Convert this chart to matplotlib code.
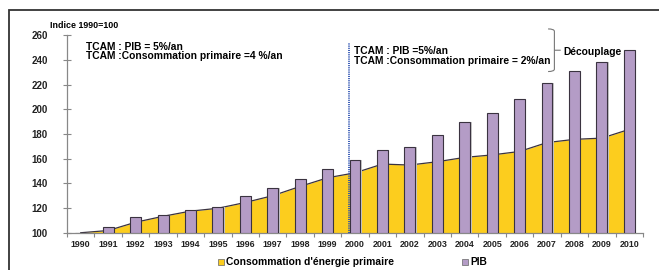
import numpy as np
import matplotlib
matplotlib.use("Agg")
import matplotlib.pyplot as plt
from matplotlib.patches import Rectangle
from matplotlib.path import Path
from matplotlib.patches import PathPatch

plt.rcParams['font.family'] = ['Liberation Sans', 'DejaVu Sans']
plt.rcParams['font.weight'] = 'bold'

years = [str(y) for y in range(1990, 2011)]
pib = [100, 104.4, 112.4, 114.6, 118.1, 121.0, 129.5, 136.4, 143.2, 151.3, 158.9,
       166.7, 169.4, 179.1, 189.9, 197.0, 208.0, 221.2, 231.0, 238.2, 248.0]
conso = [100, 101.8, 108.5, 113.3, 117.5, 119.8, 124.5, 130.0, 137.5, 144.5, 148.5,
         155.6, 154.8, 157.5, 161.0, 163.0, 165.8, 173.0, 175.6, 176.6, 183.7]
yticks = [100, 120, 140, 160, 180, 200, 220, 240, 260]

purple = '#b49cc6'
yellow = '#fccd1e'
dark = '#3a3340'

fig = plt.figure(figsize=(6.59, 2.70), dpi=100)
ax = fig.add_axes([0.1017, 0.138, 0.874, 0.732])

x = np.arange(len(years))

# area of primary energy consumption
ax.fill_between(x, 100, conso, color=yellow, lw=0, zorder=1)
ax.plot(x, conso, color=dark, lw=0.9, zorder=2)

# GDP bars (with a light shadow)
ax.bar(x + 0.05, np.array(pib) - 100, bottom=100, width=0.40, color='#c8c8c8',
       lw=0, zorder=2.5)
ax.bar(x, np.array(pib) - 100, bottom=100, width=0.40, color=purple,
       edgecolor=dark, lw=0.8, zorder=3)

ax.set_xlim(-0.5, len(years) - 0.5)
ax.set_ylim(100, 260)

for s in ['top', 'right']:
    ax.spines[s].set_visible(False)
for s in ['left', 'bottom']:
    ax.spines[s].set_color('#888888')
    ax.spines[s].set_linewidth(0.9)

ax.set_yticks(yticks)
ax.set_yticklabels([str(v) for v in yticks], fontsize=7, fontweight='bold', color='#222222')
ax.tick_params(axis='y', direction='inout', length=6, width=0.8, color='#888888', pad=11)

ax.set_xticks(x)
ax.set_xticklabels(years, fontsize=6.4, fontweight='bold', color='#222222')
ax.tick_params(axis='x', length=0, pad=5)
ax.set_xticks(np.arange(len(years) + 1) - 0.5, minor=True)
ax.tick_params(axis='x', which='minor', direction='out', length=3, width=0.8, color='#888888')

# dotted separator before 2000
ax.plot([9.79, 9.79], [100, 253.6], color='#2a4fb0', lw=1.3, ls=(0, (0.6, 0.6)), zorder=4,
        clip_on=False)

ax.text(-1.12, 268, 'Indice 1990=100', fontsize=6.4, fontweight='bold',
        ha='left', va='center', clip_on=False)
ax.text(0.2, 246.7, 'TCAM : PIB = 5%/an\nTCAM :Consommation primaire =4 %/an',
        fontsize=7.4, fontweight='bold', ha='left', va='center', linespacing=0.95)
ax.text(9.98, 243.0, 'TCAM : PIB =5%/an\nTCAM :Consommation primaire = 2%/an',
        fontsize=7.4, fontweight='bold', ha='left', va='center', linespacing=0.95)
ax.text(17.58, 246.5, 'Découplage', fontsize=7.4, fontweight='bold', ha='left', va='center')

# curly brace
def brace(xl, xr, yb, yt):
    ym = (yb + yt) / 2
    xm = (xl + xr) / 2
    verts = [(xl, yt), (xm, yt), (xm, yt - 2), (xm, ym + 4),
             (xm, ym + 1), (xm, ym), (xr, ym),
             (xm, ym), (xm, ym - 1), (xm, ym - 4),
             (xm, yb + 2), (xm, yb), (xl, yb)]
    codes = [Path.MOVETO, Path.CURVE3, Path.CURVE3, Path.LINETO,
             Path.CURVE3, Path.CURVE3, Path.LINETO,
             Path.MOVETO, Path.CURVE3, Path.CURVE3, Path.LINETO,
             Path.CURVE3, Path.CURVE3]
    ax.add_patch(PathPatch(Path(verts, codes), fill=False, ec='#777777', lw=0.8,
                           clip_on=False))

brace(17.04, 17.5, 230.5, 265.0)

# legend
fig.patches.append(Rectangle((218 / 659, 1 - 265 / 270), 6 / 659, 6 / 270,
                             transform=fig.transFigure, fc=yellow, ec='#666666', lw=0.5))
fig.text(226 / 659, 1 - 262 / 270, "Consommation d'énergie primaire", fontsize=7.4,
         fontweight='bold', va='center', ha='left')
fig.patches.append(Rectangle((462 / 659, 1 - 265 / 270), 6 / 659, 6 / 270,
                             transform=fig.transFigure, fc=purple, ec='#666666', lw=0.5))
fig.text(470 / 659, 1 - 262 / 270, "PIB", fontsize=7.4, fontweight='bold',
         va='center', ha='left')

# outer frame
fig.patches.append(Rectangle((9 / 659, -0.1), 1.2, 1 - 10 / 270 + 0.1,
                             transform=fig.transFigure, fill=False, ec='#333333', lw=1.3))

fig.savefig('out.png', dpi=100)
